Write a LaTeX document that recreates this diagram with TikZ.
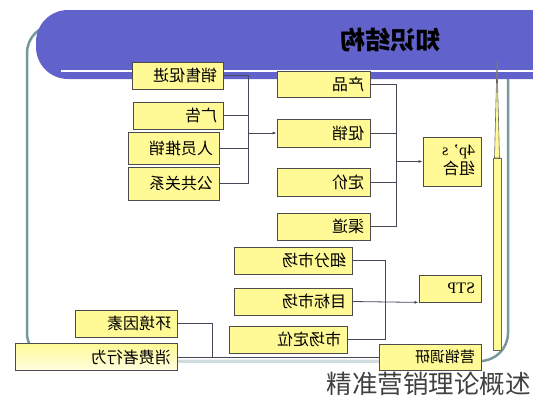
\documentclass[tikz,border=0pt]{standalone}
\usepackage{fontspec}
\setmainfont{Liberation Serif}
\newfontfamily\cjk{Noto Sans CJK SC}
\usetikzlibrary{arrows.meta}
\definecolor{bannerblue}{RGB}{98,98,204}
\definecolor{paleyellow}{RGB}{255,250,150}
\definecolor{framegray}{RGB}{118,152,155}
\definecolor{wiregray}{RGB}{70,72,90}
\newcommand{\flip}[1]{\reflectbox{#1}}
\tikzset{
  wire/.style={draw=wiregray, line width=0.8pt},
  tip/.style={-{Latex[length=4pt,width=3pt]}},
  box/.style={draw=black!70, fill=paleyellow, line width=0.8pt, text width=#1, align=right,
    inner xsep=6pt, inner ysep=0pt, minimum height=27pt, font=\cjk\fontsize{16}{18}\selectfont}
}
\begin{document}
\begin{tikzpicture}[x=1pt,y=-1pt]
  \useasboundingbox (0,0) rectangle (533,400);
  \clip (0,0) rectangle (533,400);
  \draw[framegray, line width=2.5pt, rounded corners=28pt] (27,25) rectangle (508,361);
  \draw[framegray!35, line width=3pt] (60,361) -- (476,361);
  \fill[bannerblue, rounded corners=32pt] (36,10) rectangle (600,79);
  \draw[white, line width=2.5pt] (61,71) -- (533,71);
  \node[font=\cjk\bfseries\fontsize{25}{27}\selectfont] (title) at (390,40) {\flip{知识结构}};

  \node[box=79pt] (sxcj) at (177.5,75.5) {\flip{销售促进}};
  \node[box=78pt] (gg) at (178,115.5) {\flip{广告}};
  \node[box=79pt, minimum height=32pt] (rytx) at (173.5,148) {\flip{人员推销}};
  \node[box=79pt, minimum height=33pt] (ggjx) at (173.5,183.5) {\flip{公共关系}};

  \node[box=81pt, minimum height=26pt] (cp) at (323.5,84) {\flip{产品}};
  \node[box=81pt, minimum height=28pt] (cx) at (323.5,133) {\flip{促销}};
  \node[box=81pt, minimum height=28pt] (dj) at (323.5,182) {\flip{定价}};
  \node[box=81pt] (qd) at (323.5,226.5) {\flip{渠道}};
  \node[box=46pt, minimum height=49pt] (fourp) at (452,161.5) {\flip{\begin{tabular}{@{}l@{}}{\rmfamily 4p’ s}\\组合\end{tabular}}};

  \node[box=106pt] (xfsc) at (293,260.5) {\flip{细分市场}};
  \node[box=106pt] (mbsc) at (293,301.5) {\flip{目标市场}};
  \node[box=106pt] (scdw) at (288,339.5) {\flip{市场定位}};
  \node[box=50pt] (stp) at (450,288.5) {\flip{\rmfamily STP}};

  \node[box=90pt] (hjys) at (126,323.5) {\flip{环境因素}};
  \node[box=150pt, top color=paleyellow, bottom color=paleyellow!30!white] (xfzxw) at (96,357) {\flip{消费者行为}};
  \node[box=90pt, minimum height=26pt, font=\cjk\fontsize{15}{17}\selectfont] (yxdy) at (430,357) {\flip{营销调研}};

  \coordinate (lbus) at (248,133);
  \draw[wire] (sxcj.east) -| (lbus); \draw[wire] (gg.east) -| (lbus);
  \draw[wire] (rytx.east) -| (lbus); \draw[wire] (ggjx.east) -| (lbus);
  \draw[wire, tip] (lbus) -- (cx.west);

  \coordinate (mbus) at (396,161.5);
  \draw[wire] (cp.east) -| (mbus); \draw[wire] (cx.east) -| (mbus);
  \draw[wire] (dj.east) -| (mbus); \draw[wire] (qd.east) -| (mbus);
  \draw[wire, tip] (mbus) -- (fourp.west);

  \coordinate (sbus) at (385,301.5);
  \draw[wire] (xfsc.east) -| (sbus); \draw[wire] (scdw.east) -| (sbus);
  \draw[wire, tip] (mbsc.east) -- (stp.south west);

  \coordinate (bbus) at (212,357);
  \draw[wire] (hjys.east) -| (bbus);
  \draw[wire] (xfzxw.east) -- (yxdy.west);

  \node[draw=black!60, fill=paleyellow, minimum width=8pt, minimum height=192pt, inner sep=0pt] (bar) at (497,254) {};
  \draw[black!60, line width=0.6pt, fill=paleyellow] (494.5,158) -- (497,62) -- (499.5,158) -- cycle;

  \node[anchor=south east, inner sep=0pt, text=black!75, font=\cjk\fontsize{25.5}{28}\selectfont] (wm) at (531,396) {精准营销理论概述};
\end{tikzpicture}
\end{document}
